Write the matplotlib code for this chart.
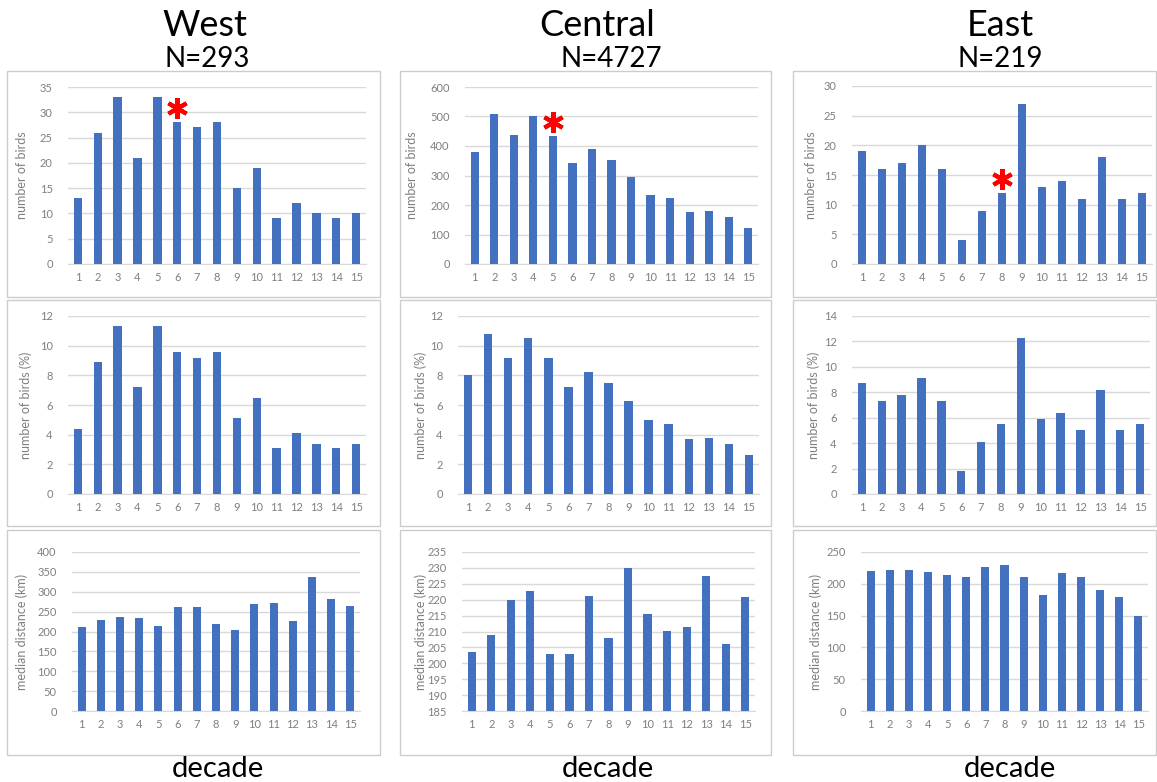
import matplotlib
matplotlib.use('Agg')
import matplotlib.pyplot as plt
from matplotlib.patches import Rectangle
from matplotlib.transforms import offset_copy
import numpy as np

plt.rcParams['font.family'] = ['Lato', 'DejaVu Sans']

decades = list(range(1, 16))
regions = ['West', 'Central', 'East']
n_birds = [293, 4727, 219]

# birds per decade
west_count = [13, 26, 33, 21, 33, 28, 27, 28, 15, 19, 9, 12, 10, 9, 10]
central_count = [380, 510, 437, 500, 435, 343, 390, 352, 296, 235, 224, 175, 180, 160, 122]
east_count = [19, 16, 17, 20, 16, 4, 9, 12, 27, 13, 14, 11, 18, 11, 12]

# share of birds per decade (%)
west_pct = [4.4, 8.9, 11.3, 7.2, 11.3, 9.6, 9.2, 9.6, 5.1, 6.5, 3.1, 4.1, 3.4, 3.1, 3.4]
central_pct = [8.0, 10.8, 9.2, 10.5, 9.2, 7.2, 8.2, 7.5, 6.3, 5.0, 4.7, 3.7, 3.8, 3.4, 2.6]
east_pct = [8.7, 7.3, 7.8, 9.1, 7.3, 1.8, 4.1, 5.5, 12.3, 5.9, 6.4, 5.0, 8.2, 5.0, 5.5]

# median distance (km)
west_dist = [212, 229, 236, 234, 215, 261, 262, 218, 204, 269, 271, 226, 336, 282, 264]
central_dist = [203.7, 208.8, 219.8, 222.8, 202.8, 202.8, 221.3, 207.9, 230.0, 215.5, 210.3, 211.3, 227.4, 206.0, 220.8]
east_dist = [220, 222, 222, 218, 214, 211, 227, 229, 211, 183, 217, 211, 191, 179, 149]

# decade flagged with an asterisk in each region
marked_decade = [6, 5, 8]

rows = [
    ([west_count, central_count, east_count], 'number of birds',
     [(0, 35, 5), (0, 600, 100), (0, 30, 5)]),
    ([west_pct, central_pct, east_pct], 'number of birds (%)',
     [(0, 12, 2), (0, 12, 2), (0, 14, 2)]),
    ([west_dist, central_dist, east_dist], 'median distance (km)',
     [(0, 400, 50), (185, 235, 5), (0, 250, 50)]),
]

W, H = 1157, 782
fig = plt.figure(figsize=(W / 100, H / 100), dpi=100)

BLUE = '#4371C0'
GRID = '#d9d9d9'
TXT = '#7f7f7f'

# pixel layout: panel frames and plot areas (left, top, right, bottom)
frame_x = [(7, 380), (400, 771), (793, 1156)]
frame_y = [(71, 297), (300, 526), (530, 755)]
plot_box = [
    [(68, 87, 366, 264), (465, 87, 758, 264), (852, 86, 1152, 264)],
    [(68, 316, 366, 494), (458, 316, 759, 494), (852, 316, 1150, 494)],
    [(72, 552, 360, 711), (462, 552, 755, 711), (861, 552, 1148, 711)],
]
ylabel_x = [[28, 418, 817], [32, 427, 820], [28, 427, 822]]

for c in range(3):
    for r in range(3):
        x0, x1 = frame_x[c]
        y0, y1 = frame_y[r]
        fig.patches.append(Rectangle((x0 / W, 1 - y1 / H), (x1 - x0) / W, (y1 - y0) / H,
                                     transform=fig.transFigure, facecolor='none',
                                     edgecolor='#cccccc', lw=1.0, zorder=0))

for r, (series, ylab, lims) in enumerate(rows):
    for c in range(3):
        l, t, rr, b = plot_box[r][c]
        ax = fig.add_axes([l / W, 1 - b / H, (rr - l) / W, (b - t) / H])
        ax.bar(decades, series[c], width=0.42, color=BLUE, zorder=3)
        lo, hi, step = lims[c]
        ax.set_ylim(lo, hi)
        ax.set_yticks(np.arange(lo, hi + step / 2, step))
        ax.set_xlim(0.5, 15.5)
        ax.set_xticks(decades)
        ax.yaxis.grid(True, color=GRID, lw=1.0)
        ax.set_axisbelow(True)
        for s in ['left', 'right', 'top']:
            ax.spines[s].set_visible(False)
        ax.spines['bottom'].set_color(GRID)
        ax.tick_params(length=0, labelsize=8, labelcolor=TXT)
        ax.tick_params(axis='y', pad=11)
        ax.tick_params(axis='x', pad=6)
        ax.set_ylabel(ylab, fontsize=9, color=TXT)
        ax.yaxis.set_label_coords((ylabel_x[r][c] - l) / (rr - l), 0.5)
        ax.patch.set_alpha(0)

        if r == 0:
            d = marked_decade[c]
            tr = offset_copy(ax.transData, fig=fig, x=0, y=14, units='dots')
            ax.plot(d, series[c][d - 1], marker=(6, 2, 0), ms=15, mew=3,
                    color='#ff0000', transform=tr, clip_on=False, zorder=5)

title_x = [205, 597, 1000]
n_x = [207, 611, 1000]
decade_x = [218, 608, 1010]
for c in range(3):
    fig.text(title_x[c] / W, 1 - 36 / H, regions[c], ha='center', va='baseline', fontsize=26)
    fig.text(n_x[c] / W, 1 - 67 / H, 'N=%d' % n_birds[c], ha='center', va='baseline', fontsize=20)
    fig.text(decade_x[c] / W, 1 - 777 / H, 'decade', ha='center', va='baseline', fontsize=21)

fig.savefig('out.png', dpi=100, facecolor='white')
